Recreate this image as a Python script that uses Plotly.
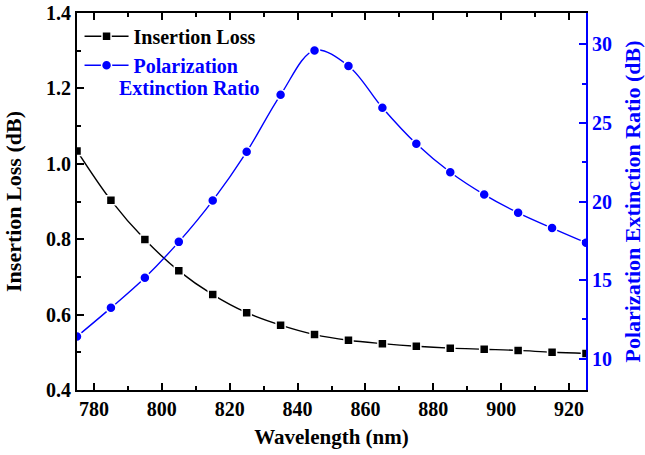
import plotly.graph_objects as go

wavelength = [775, 785, 795, 805, 815, 825, 835, 845, 855, 865, 875, 885, 895, 905, 915, 925]
insertion_loss = [1.034, 0.903, 0.799, 0.716, 0.653, 0.605, 0.572, 0.547, 0.532, 0.523,
                  0.516, 0.511, 0.508, 0.505, 0.500, 0.497]
per = [11.41, 13.23, 15.15, 17.43, 20.06, 23.16, 26.79, 29.62, 28.63, 25.97,
       23.67, 21.86, 20.44, 19.28, 18.31, 17.38]

x_ticks = [780, 800, 820, 840, 860, 880, 900, 920]
il_ticks = [0.4, 0.6, 0.8, 1.0, 1.2, 1.4]
per_ticks = [10, 15, 20, 25, 30]

FONT = "Liberation Serif"
BLUE = "#0000ff"

def f(size=20, color="black"):
    return dict(family=FONT, size=size, color=color, weight="bold")

def b(s):
    return "<b>" + s + "</b>"

fig = go.Figure()
fig.add_trace(go.Scatter(
    x=wavelength, y=insertion_loss, name=b("Insertion Loss"),
    mode="lines+markers", line=dict(color="black", width=1.4, shape="spline"),
    marker=dict(symbol="square", size=9, color="black", line=dict(color="white", width=1.5)),
    yaxis="y"))
fig.add_trace(go.Scatter(
    x=wavelength, y=per, name="<b><span style='color:#0000ff'>Polarization</span></b>",
    mode="lines+markers", line=dict(color=BLUE, width=1.4, shape="spline"),
    marker=dict(symbol="circle", size=10, color=BLUE, line=dict(color="white", width=1.5)),
    yaxis="y2"))

fig.add_annotation(text=b("Extinction Ratio"), xref="paper", yref="paper",
                   x=(117 - 76.5) / 510, y=1 - (88 - 12.5) / 378, xanchor="left", yanchor="middle",
                   showarrow=False, font=f(20, BLUE))

fig.update_layout(
    width=645, height=455,
    margin=dict(l=76.5, r=58.5, t=12.5, b=64.5),
    plot_bgcolor="white", paper_bgcolor="white",
    font=f(),
    showlegend=True,
    legend=dict(x=0.005, y=0.99, xanchor="left", yanchor="top", bgcolor="rgba(0,0,0,0)",
                font=f(20), tracegroupgap=0, itemwidth=44),
    xaxis=dict(
        range=[775, 925], tickvals=x_ticks, ticktext=[b(str(v)) for v in x_ticks],
        ticks="inside", ticklen=7, tickwidth=2, tickcolor="black",
        showline=True, linewidth=2, linecolor="black", mirror="ticks",
        showgrid=False, zeroline=False, automargin=False,
        tickfont=f(20),
        minor=dict(ticks="inside", ticklen=4, tickwidth=2, tickcolor="black", dtick=10, tick0=770),
        title=dict(text=b("Wavelength (nm)"), font=f(21), standoff=10),
    ),
    yaxis=dict(
        range=[0.4, 1.4], tickvals=il_ticks, ticktext=[b(f"{v:.1f}") for v in il_ticks],
        ticks="inside", ticklen=7, tickwidth=2, tickcolor="black",
        showline=True, linewidth=2, linecolor="black",
        showgrid=False, zeroline=False, automargin=False,
        tickfont=f(20),
        minor=dict(ticks="inside", ticklen=4, tickwidth=2, tickcolor="black", dtick=0.1, tick0=0.3),
        title=dict(text=b("Insertion Loss (dB)"), font=f(22), standoff=18),
    ),
    yaxis2=dict(
        range=[8, 32], tickvals=per_ticks, ticktext=[b(str(v)) for v in per_ticks],
        overlaying="y", side="right",
        ticks="inside", ticklen=7, tickwidth=2, tickcolor=BLUE,
        showline=True, linewidth=2, linecolor=BLUE,
        showgrid=False, zeroline=False, automargin=False,
        tickfont=f(20, BLUE),
        minor=dict(ticks="inside", ticklen=4, tickwidth=2, tickcolor=BLUE, dtick=2.5, tick0=7.5),
        title=dict(text=b("Polarization Extinction Ratio (dB)"), font=f(22, BLUE), standoff=15),
    ),
)

# remove the default 8px page margin so the figure sits at the window origin
fig.write_html("out.html", config={"displayModeBar": False},
               post_script="document.body.style.margin='0';")
